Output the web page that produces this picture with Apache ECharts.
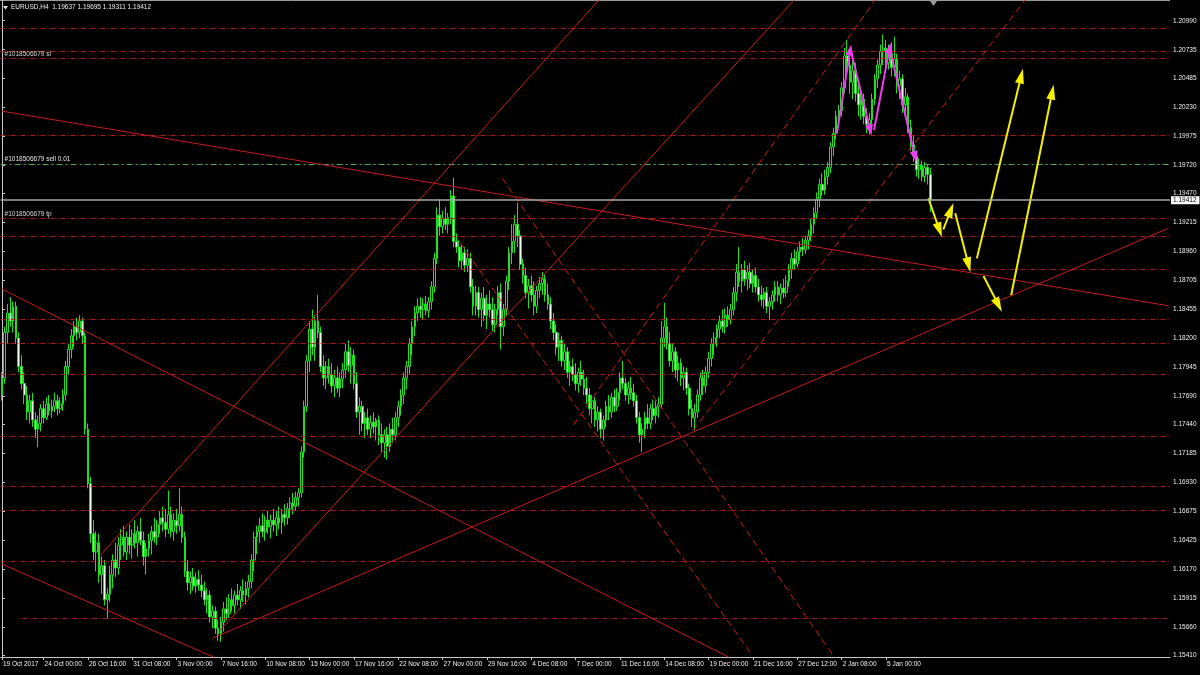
<!DOCTYPE html>
<html><head><meta charset="utf-8">
<script src="https://cdn.jsdelivr.net/npm/echarts@6/dist/echarts.min.js"></script>
<style>html,body{margin:0;padding:0;background:#000;}#c{width:1200px;height:675px;}</style>
</head><body><div id="c"></div><script>
// ---------- DATA (H4 bars: [open, high, low, close]) ----------
const barsA = [
[1.1770,1.1790,1.1765,1.1785],[1.1785,1.1830,1.1780,1.1825],[1.1825,1.1850,1.1815,1.1842],[1.1842,1.1856,1.1830,1.1835],
[1.1835,1.1852,1.1825,1.1848],[1.1848,1.1852,1.1815,1.1820],[1.1820,1.1825,1.1790,1.1795],[1.1795,1.1805,1.1775,1.1780],
[1.1780,1.1790,1.1762,1.1770],[1.1770,1.1778,1.1748,1.1755],[1.1755,1.1770,1.1745,1.1765],[1.1765,1.1772,1.1742,1.1748],
[1.1748,1.1755,1.1732,1.1740],[1.1740,1.1752,1.1724,1.1745],[1.1745,1.1762,1.1738,1.1758],[1.1758,1.1765,1.1745,1.1750],
[1.1750,1.1768,1.1748,1.1762],[1.1762,1.1770,1.1752,1.1756],[1.1756,1.1766,1.1750,1.1760],[1.1760,1.1772,1.1755,1.1765],
[1.1765,1.1770,1.1752,1.1758],[1.1758,1.1768,1.1754,1.1762],[1.1762,1.1775,1.1756,1.1770],[1.1770,1.1800,1.1765,1.1795],
[1.1795,1.1815,1.1788,1.1810],[1.1810,1.1828,1.1802,1.1822],[1.1822,1.1835,1.1812,1.1830],[1.1830,1.1838,1.1818,1.1825],
[1.1825,1.1840,1.1820,1.1835],[1.1835,1.1838,1.1815,1.1822],[1.1822,1.1825,1.1735,1.1740],[1.1740,1.1745,1.1688,1.1692],
[1.1692,1.1698,1.1640,1.1648],[1.1648,1.1660,1.1625,1.1632],[1.1632,1.1650,1.1615,1.1640],[1.1640,1.1648,1.1605,1.1612],
[1.1612,1.1628,1.1595,1.1620],[1.1620,1.1625,1.1585,1.1590],[1.1590,1.1600,1.1573,1.1595],[1.1595,1.1620,1.1588,1.1612],
[1.1612,1.1630,1.1600,1.1625],[1.1625,1.1640,1.1610,1.1618],[1.1618,1.1645,1.1612,1.1638],[1.1638,1.1652,1.1625,1.1645],
[1.1645,1.1655,1.1628,1.1632],[1.1632,1.1650,1.1625,1.1645],[1.1645,1.1656,1.1630,1.1638],[1.1638,1.1652,1.1626,1.1648],
[1.1648,1.1660,1.1635,1.1640],[1.1640,1.1655,1.1628,1.1650],[1.1650,1.1662,1.1638,1.1642],[1.1642,1.1650,1.1620,1.1628],
[1.1628,1.1640,1.1612,1.1635],[1.1635,1.1648,1.1628,1.1642],[1.1642,1.1655,1.1630,1.1650],[1.1650,1.1662,1.1640,1.1645],
[1.1645,1.1660,1.1638,1.1656],[1.1656,1.1668,1.1648,1.1662],[1.1662,1.1672,1.1650,1.1658],[1.1658,1.1670,1.1645,1.1652]
];
const barsB = [
[1.1652,1.1686,1.1648,1.1665],[1.1665,1.1672,1.1645,1.1650],[1.1650,1.1666,1.1642,1.1660],[1.1660,1.1670,1.1648,1.1655],
[1.1655,1.1688,1.1650,1.1665],[1.1665,1.1672,1.1640,1.1645],[1.1645,1.1650,1.1610,1.1615],[1.1615,1.1625,1.1598,1.1605],
[1.1605,1.1615,1.1595,1.1610],[1.1610,1.1618,1.1598,1.1602],[1.1602,1.1614,1.1596,1.1608],[1.1608,1.1616,1.1598,1.1603],
[1.1603,1.1612,1.1592,1.1598],[1.1598,1.1606,1.1585,1.1590],[1.1590,1.1600,1.1578,1.1594],[1.1594,1.1598,1.1570,1.1575],
[1.1575,1.1585,1.1565,1.1580],[1.1580,1.1584,1.1560,1.1565],[1.1565,1.1572,1.1554,1.1560],[1.1560,1.1575,1.1553,1.1570],
[1.1570,1.1588,1.1562,1.1582],[1.1582,1.1592,1.1572,1.1578],[1.1578,1.1595,1.1574,1.1590],[1.1590,1.1600,1.1580,1.1585],
[1.1585,1.1598,1.1578,1.1594],[1.1594,1.1604,1.1585,1.1590],[1.1590,1.1602,1.1582,1.1598],[1.1598,1.1608,1.1588,1.1594],
[1.1594,1.1606,1.1586,1.1600],[1.1600,1.1612,1.1592,1.1606],[1.1606,1.1630,1.1600,1.1625],[1.1625,1.1650,1.1615,1.1645],
[1.1645,1.1655,1.1630,1.1650],[1.1650,1.1662,1.1640,1.1655],[1.1655,1.1666,1.1645,1.1650],[1.1650,1.1664,1.1642,1.1660],
[1.1660,1.1668,1.1648,1.1654],[1.1654,1.1665,1.1644,1.1660],[1.1660,1.1670,1.1650,1.1656],[1.1656,1.1668,1.1646,1.1662],
[1.1662,1.1672,1.1652,1.1658],[1.1658,1.1670,1.1648,1.1665],[1.1665,1.1674,1.1655,1.1662],[1.1662,1.1675,1.1656,1.1670],
[1.1670,1.1680,1.1662,1.1675],[1.1675,1.1684,1.1665,1.1672],[1.1672,1.1685,1.1668,1.1680],[1.1680,1.1688,1.1672,1.1684],
[1.1684,1.1725,1.1680,1.1720],[1.1720,1.1765,1.1715,1.1760],[1.1760,1.1805,1.1755,1.1800],[1.1800,1.1835,1.1790,1.1828],
[1.1828,1.1845,1.1805,1.1812],[1.1812,1.1840,1.1800,1.1835],[1.1835,1.1858,1.1820,1.1825],[1.1825,1.1830,1.1790,1.1795],
[1.1795,1.1805,1.1778,1.1785],[1.1785,1.1800,1.1775,1.1795],[1.1795,1.1802,1.1780,1.1788],[1.1788,1.1798,1.1772,1.1778]
];
const barsC = [
[1.1778,1.1792,1.1768,1.1785],[1.1785,1.1795,1.1772,1.1776],[1.1776,1.1790,1.1768,1.1784],[1.1784,1.1798,1.1776,1.1792],
[1.1792,1.1815,1.1785,1.1808],[1.1808,1.1818,1.1790,1.1796],[1.1796,1.1812,1.1780,1.1805],[1.1805,1.1810,1.1775,1.1780],
[1.1780,1.1790,1.1750,1.1755],[1.1755,1.1768,1.1735,1.1760],[1.1760,1.1765,1.1738,1.1745],[1.1745,1.1755,1.1732,1.1750],
[1.1750,1.1758,1.1735,1.1740],[1.1740,1.1752,1.1732,1.1746],[1.1746,1.1755,1.1736,1.1742],[1.1742,1.1750,1.1730,1.1748],
[1.1748,1.1752,1.1726,1.1735],[1.1735,1.1745,1.1720,1.1728],[1.1728,1.1740,1.1715,1.1735],[1.1735,1.1742,1.1713,1.1725],
[1.1725,1.1745,1.1720,1.1740],[1.1740,1.1750,1.1728,1.1735],[1.1735,1.1755,1.1730,1.1750],[1.1750,1.1765,1.1742,1.1760],
[1.1760,1.1775,1.1752,1.1770],[1.1770,1.1790,1.1762,1.1785],[1.1785,1.1800,1.1775,1.1795],[1.1795,1.1820,1.1788,1.1815],
[1.1815,1.1835,1.1805,1.1830],[1.1830,1.1848,1.1822,1.1842],[1.1842,1.1855,1.1835,1.1848],[1.1848,1.1856,1.1838,1.1845],
[1.1845,1.1855,1.1836,1.1850],[1.1850,1.1857,1.1840,1.1844],[1.1844,1.1856,1.1838,1.1852],[1.1852,1.1870,1.1845,1.1865],
[1.1865,1.1895,1.1860,1.1890],[1.1890,1.1935,1.1885,1.1928],[1.1928,1.1942,1.1910,1.1918],[1.1918,1.1932,1.1912,1.1925],
[1.1925,1.1935,1.1915,1.1920],[1.1920,1.1930,1.1912,1.1926],[1.1926,1.1950,1.1920,1.1945],[1.1945,1.1961,1.1900,1.1905],
[1.1905,1.1912,1.1895,1.1900],[1.1900,1.1906,1.1882,1.1888],[1.1888,1.1902,1.1880,1.1895],[1.1895,1.1900,1.1878,1.1884],
[1.1884,1.1898,1.1878,1.1890],[1.1890,1.1895,1.1860,1.1865],[1.1865,1.1872,1.1840,1.1848],[1.1848,1.1866,1.1840,1.1860],
[1.1860,1.1865,1.1838,1.1845],[1.1845,1.1860,1.1830,1.1855],[1.1855,1.1865,1.1835,1.1840],[1.1840,1.1858,1.1828,1.1850],
[1.1850,1.1862,1.1838,1.1845],[1.1845,1.1856,1.1826,1.1832],[1.1832,1.1850,1.1825,1.1845],[1.1845,1.1866,1.1840,1.1860]
];
const barsD = [
[1.1860,1.1868,1.1810,1.1830],[1.1830,1.1850,1.1822,1.1845],[1.1845,1.1875,1.1840,1.1870],[1.1870,1.1900,1.1862,1.1895],
[1.1895,1.1920,1.1885,1.1905],[1.1905,1.1928,1.1895,1.1920],[1.1920,1.1939,1.1900,1.1910],[1.1910,1.1915,1.1880,1.1885],
[1.1885,1.1890,1.1868,1.1875],[1.1875,1.1882,1.1855,1.1860],[1.1860,1.1872,1.1846,1.1866],[1.1866,1.1875,1.1852,1.1858],
[1.1858,1.1870,1.1840,1.1848],[1.1848,1.1866,1.1842,1.1862],[1.1862,1.1874,1.1855,1.1868],[1.1868,1.1878,1.1858,1.1872],
[1.1872,1.1876,1.1852,1.1858],[1.1858,1.1868,1.1845,1.1850],[1.1850,1.1856,1.1828,1.1835],[1.1835,1.1842,1.1818,1.1825],
[1.1825,1.1832,1.1805,1.1812],[1.1812,1.1825,1.1800,1.1818],[1.1818,1.1822,1.1795,1.1800],[1.1800,1.1815,1.1792,1.1808],
[1.1808,1.1812,1.1785,1.1790],[1.1790,1.1800,1.1778,1.1795],[1.1795,1.1802,1.1782,1.1788],[1.1788,1.1798,1.1774,1.1780],
[1.1780,1.1794,1.1772,1.1790],[1.1790,1.1800,1.1778,1.1784],[1.1784,1.1792,1.1770,1.1776],[1.1776,1.1786,1.1762,1.1770],
[1.1770,1.1776,1.1752,1.1758],[1.1758,1.1770,1.1745,1.1765],[1.1765,1.1768,1.1742,1.1748],[1.1748,1.1760,1.1738,1.1755],
[1.1755,1.1758,1.1732,1.1740],[1.1740,1.1752,1.1730,1.1748],[1.1748,1.1765,1.1742,1.1760],[1.1760,1.1770,1.1748,1.1755],
[1.1755,1.1772,1.1750,1.1768],[1.1768,1.1775,1.1755,1.1760],[1.1760,1.1776,1.1756,1.1772],[1.1772,1.1790,1.1765,1.1785],
[1.1785,1.1800,1.1775,1.1780],[1.1780,1.1785,1.1765,1.1770],[1.1770,1.1782,1.1762,1.1776],[1.1776,1.1786,1.1766,1.1772],
[1.1772,1.1780,1.1760,1.1765],[1.1765,1.1770,1.1745,1.1750],[1.1750,1.1755,1.1728,1.1735],[1.1735,1.1745,1.1720,1.1740],
[1.1740,1.1755,1.1732,1.1750],[1.1750,1.1762,1.1740,1.1745],[1.1745,1.1762,1.1740,1.1758],[1.1758,1.1766,1.1748,1.1752],
[1.1752,1.1765,1.1745,1.1760],[1.1760,1.1768,1.1750,1.1762],[1.1762,1.1835,1.1758,1.1820],[1.1820,1.1851,1.1812,1.1830]
];
const barsE = [
[1.1830,1.1838,1.1810,1.1815],[1.1815,1.1825,1.1795,1.1800],[1.1800,1.1815,1.1790,1.1808],[1.1808,1.1812,1.1785,1.1792],
[1.1792,1.1805,1.1782,1.1798],[1.1798,1.1802,1.1778,1.1785],[1.1785,1.1795,1.1774,1.1790],[1.1790,1.1794,1.1770,1.1776],
[1.1776,1.1780,1.1752,1.1758],[1.1758,1.1766,1.1742,1.1750],[1.1750,1.1762,1.1739,1.1755],[1.1755,1.1775,1.1750,1.1770],
[1.1770,1.1790,1.1765,1.1785],[1.1785,1.1792,1.1770,1.1778],[1.1778,1.1795,1.1772,1.1790],[1.1790,1.1808,1.1785,1.1802],
[1.1802,1.1820,1.1795,1.1815],[1.1815,1.1825,1.1805,1.1820],[1.1820,1.1832,1.1812,1.1828],[1.1828,1.1840,1.1820,1.1835],
[1.1835,1.1845,1.1825,1.1830],[1.1830,1.1846,1.1824,1.1840],[1.1840,1.1848,1.1830,1.1836],[1.1836,1.1850,1.1832,1.1845],
[1.1845,1.1865,1.1840,1.1860],[1.1860,1.1885,1.1852,1.1878],[1.1878,1.1900,1.1865,1.1870],[1.1870,1.1885,1.1860,1.1880],
[1.1880,1.1888,1.1866,1.1872],[1.1872,1.1884,1.1862,1.1878],[1.1878,1.1886,1.1864,1.1868],[1.1868,1.1880,1.1860,1.1875],
[1.1875,1.1882,1.1860,1.1865],[1.1865,1.1872,1.1852,1.1858],[1.1858,1.1866,1.1848,1.1854],[1.1854,1.1864,1.1846,1.1860],
[1.1860,1.1865,1.1842,1.1848],[1.1848,1.1856,1.1836,1.1852],[1.1852,1.1862,1.1845,1.1858],[1.1858,1.1870,1.1852,1.1865],
[1.1865,1.1870,1.1852,1.1858],[1.1858,1.1868,1.1850,1.1864],[1.1864,1.1872,1.1855,1.1860],[1.1860,1.1875,1.1856,1.1870],
[1.1870,1.1885,1.1865,1.1880],[1.1880,1.1895,1.1872,1.1890],[1.1890,1.1898,1.1880,1.1885],[1.1885,1.1900,1.1882,1.1896],
[1.1896,1.1905,1.1888,1.1900],[1.1900,1.1908,1.1892,1.1898],[1.1898,1.1910,1.1894,1.1906],[1.1906,1.1915,1.1898,1.1910],
[1.1910,1.1925,1.1905,1.1920],[1.1920,1.1935,1.1912,1.1930],[1.1930,1.1948,1.1925,1.1942],[1.1942,1.1960,1.1935,1.1955],
[1.1955,1.1965,1.1945,1.1950],[1.1950,1.1968,1.1946,1.1962],[1.1962,1.1975,1.1955,1.1970],[1.1970,1.1992,1.1965,1.1988]
];
const barsF = [
[1.1988,1.2005,1.1980,1.2000],[1.2000,1.2020,1.1995,1.2015],[1.2015,1.2025,1.2005,1.2020],[1.2020,1.2045,1.2015,1.2040],
[1.2040,1.2075,1.2035,1.2068],[1.2068,1.2082,1.2050,1.2060],[1.2060,1.2070,1.2035,1.2045],[1.2045,1.2065,1.2030,1.2055],
[1.2055,1.2062,1.2028,1.2035],[1.2035,1.2045,1.2015,1.2025],[1.2025,1.2040,1.2012,1.2030],[1.2030,1.2035,1.2008,1.2015],
[1.2015,1.2022,1.2000,1.2008],[1.2008,1.2018,1.1999,1.2012],[1.2012,1.2035,1.2008,1.2030],[1.2030,1.2052,1.2025,1.2048],
[1.2048,1.2065,1.2040,1.2060],[1.2060,1.2078,1.2052,1.2072],[1.2072,1.2087,1.2060,1.2075],[1.2075,1.2082,1.2055,1.2062],
[1.2062,1.2078,1.2056,1.2070],[1.2070,1.2080,1.2050,1.2058],[1.2058,1.2085,1.2050,1.2065],[1.2065,1.2070,1.2035,1.2042],
[1.2042,1.2055,1.2030,1.2048],[1.2048,1.2052,1.2018,1.2025],[1.2025,1.2040,1.2015,1.2032],[1.2032,1.2035,1.2000,1.2005],
[1.2005,1.2012,1.1985,1.1990],[1.1990,1.1998,1.1975,1.1980],[1.1980,1.1985,1.1962,1.1968],[1.1968,1.1978,1.1960,1.1972],
[1.1972,1.1976,1.1958,1.1962],[1.1962,1.1975,1.1957,1.1970],[1.1970,1.1972,1.1955,1.1964],[1.19637,1.19695,1.19311,1.19412]
];

const SLOTS = 422;              // bar slots across the window (incl. chart shift)
const xTickIndex  = [0,15,31,47,63,79,95,111,127,143,159,175,191,207,223,239,255,271,287,303,319];
const xTickLabels = ['19 Oct 2017','24 Oct 00:00','26 Oct 16:00','31 Oct 08:00','3 Nov 00:00','7 Nov 16:00',
  '10 Nov 08:00','15 Nov 00:00','17 Nov 16:00','22 Nov 08:00','27 Nov 00:00','29 Nov 16:00','4 Dec 08:00',
  '7 Dec 00:00','11 Dec 16:00','14 Dec 08:00','19 Dec 00:00','21 Dec 16:00','27 Dec 12:00','2 Jan 08:00','5 Jan 00:00'];
const yTicks = [1.15410,1.15660,1.15915,1.16170,1.16425,1.16675,1.16930,1.17185,1.17440,1.17690,1.17945,
  1.18200,1.18455,1.18705,1.18960,1.19215,1.19470,1.19720,1.19975,1.20230,1.20485,1.20735,1.20990];
const yMin = 1.15397, yMax = 1.21172;

// horizontal levels: [startBarIndex, price]
const hLevels = [[-0.5,1.20923],[-0.5,1.20724],[-0.5,1.20660],[-0.5,1.19985],[-0.5,1.19253],[-0.5,1.19091],
  [-0.5,1.18808],[-0.5,1.18365],[-0.5,1.18154],[-0.5,1.17879],[-0.5,1.17340],[-0.5,1.16894],[-0.5,1.16683],
  [-0.5,1.16235],[7.4,1.15737]];
const slPrice = 1.20660, tpPrice = 1.19253, sellPrice = 1.19730, bidPrice = 1.19412;
const orderId = '#1018506679';

// trend lines: [[barIndex, price],[barIndex, price]]
const solidLines = [
  [[0,1.20195],[421,1.18484]],
  [[0,1.18632],[262.1,1.15397]],
  [[0,1.16214],[76.3,1.15397]],
  [[75.9,1.15561],[421,1.19167]],
  [[35.6,1.16294],[215.4,1.21172]],
  [[78.8,1.15634],[285.9,1.21172]]
];
const dashedLines = [
  [[206.2,1.17436],[315.1,1.21172]],
  [[249.5,1.17392],[369.2,1.21172]],
  [[180.5,1.19605],[300.3,1.15397]],
  [[165.4,1.19036],[270.6,1.15415]]
];
const magentaArrows = [
  [[301.3,1.20000],[306.1,1.20732]],
  [[306.6,1.20700],[313.3,1.20029]],
  [[314.7,1.20029],[320.3,1.20747]],
  [[320.8,1.20700],[329.5,1.19795]]
];
const yellowArrows = [
  [[334.3,1.19429],[338.3,1.19150]],
  [[339.7,1.19156],[342.4,1.19326]],
  [[344.0,1.19297],[348.8,1.18843]],
  [[351.8,1.18901],[367.8,1.20504]],
  [[354.2,1.18746],[359.6,1.18491]],
  [[364.2,1.18579],[379.0,1.20363]]
];

// ---------- CHART ----------
const FONT = 'Liberation Sans';
const FS = 6.5;
const RED = '#c81c1c';
const bars = [].concat(barsA, barsB, barsC, barsD, barsE, barsF);
const categories = Array.from({length: SLOTS}, (_, i) => String(i));
const labelAt = {};
xTickIndex.forEach((ix, k) => { labelAt[ix] = xTickLabels[k]; });
const showTick = (i) => labelAt[i] !== undefined;
const xEnd = SLOTS - 0.5;

const candleData = bars.map(b => [b[0], b[3], b[2], b[1]]);
const last = bars[bars.length - 1];

function seg(pair, style, endSymbol, size, label) {
  const a = {coord: pair[0], symbol: 'none', lineStyle: style};
  const b = {coord: pair[1], symbol: endSymbol || 'none', symbolSize: size || 0, lineStyle: style};
  if (label) { a.label = label; b.label = label; }
  return [a, b];
}
const hStyle = {color: RED, width: 1, type: [5, 2, 1, 2], opacity: 0.9};
const txtLabel = (t) => ({show: true, position: 'insideStartTop', formatter: t, color: '#e6e6e6',
  fontSize: FS, fontFamily: FONT, distance: 1, padding: [0, 0, 0, 3]});

const mlData = [];
hLevels.forEach(h => {
  const p = h[1];
  let lab = null;
  if (p === slPrice) lab = txtLabel(orderId + ' sl');
  if (p === tpPrice) lab = txtLabel(orderId + ' tp');
  mlData.push(seg([[h[0], p], [xEnd, p]], hStyle, null, 0, lab));
});
mlData.push(seg([[-0.5, sellPrice], [xEnd, sellPrice]], {color: '#52a852', width: 1, type: [6, 3, 2, 3]}, null, 0,
  txtLabel(orderId + ' sell 0.01')));
solidLines.forEach(l => mlData.push(seg(l, {color: RED, width: 1, type: 'solid'})));
dashedLines.forEach(l => mlData.push(seg(l, {color: RED, width: 1, type: [7, 4]})));
magentaArrows.forEach(l => mlData.push(seg(l, {color: '#f03cf0', width: 2, type: 'solid'}, 'triangle', [8, 11])));
yellowArrows.forEach(l => mlData.push(seg(l, {color: '#f5f000', width: 2, type: 'solid'}, 'triangle', [9, 15])));
mlData.push(seg([[-0.5, bidPrice], [xEnd, bidPrice]], {color: '#a8a8a8', width: 1.5, type: 'solid'}, null, 0,
  {show: true, position: 'end', formatter: bidPrice.toFixed(5), backgroundColor: '#ffffff', color: '#000',
    fontSize: FS, fontFamily: FONT, padding: [1, 3, 0, 2], distance: 1}));

const chart = echarts.init(document.getElementById('c'), null, {renderer: 'canvas'});
chart.setOption({
  backgroundColor: '#000',
  animation: false,
  grid: {left: 0, right: 30, top: 0, bottom: 18, containLabel: false},
  xAxis: [{
    type: 'category', data: categories, boundaryGap: true,
    axisLine: {show: true, lineStyle: {color: '#c8c8c8', width: 1}},
    axisTick: {show: true, interval: (i) => showTick(i), alignWithLabel: true, length: 3, lineStyle: {color: '#c8c8c8'}},
    axisLabel: {interval: (i) => showTick(i), formatter: (v, i) => labelAt[i] || '', align: 'left',
      color: '#f0f0f0', fontSize: FS, fontFamily: FONT, margin: 4, padding: [0, 0, 0, 1]},
    splitLine: {show: false}
  }, {
    type: 'value', min: -0.5, max: xEnd, show: false
  }],
  yAxis: {
    type: 'value', position: 'right', min: yMin, max: yMax, scale: true,
    axisLine: {show: true, lineStyle: {color: '#c8c8c8', width: 1}},
    axisTick: {show: true, customValues: yTicks, length: 3, lineStyle: {color: '#c8c8c8'}},
    axisLabel: {customValues: yTicks, formatter: (v) => v.toFixed(5), color: '#f0f0f0', fontSize: FS, fontFamily: FONT, margin: 3},
    splitLine: {show: false}
  },
  series: [{
    type: 'candlestick', xAxisIndex: 0, data: candleData, barWidth: 2.2, clip: false,
    itemStyle: {color: '#000', color0: '#eaffea', borderColor: '#1ee01e', borderColor0: '#1ee01e', borderWidth: 1},
    silent: true
  }, {
    type: 'line', xAxisIndex: 1, data: [], z: 5, silent: true,
    markLine: {silent: true, animation: false, symbol: ['none', 'none'], label: {show: false},
      emphasis: {disabled: true}, data: mlData}
  }],
  graphic: [
    {type: 'line', shape: {x1: 0, y1: 0.5, x2: 1170, y2: 0.5}, style: {stroke: '#9a9a9a', lineWidth: 1}, silent: true},
    {type: 'polygon', shape: {points: [[930, 1], [937, 1], [933.5, 6]]}, style: {fill: '#9a9a9a'}, silent: true},
    {type: 'polygon', shape: {points: [[3, 6], [8, 6], [5.5, 9.5]]}, style: {fill: '#e6e6e6'}, silent: true},
    {type: 'text', left: 11, top: 4, silent: true,
      style: {text: 'EURUSD,H4  ' + last.map(v => v.toFixed(5)).join(' '), fill: '#eeeeee', font: FS + 'px ' + FONT}}
  ]
});
</script></body></html>
